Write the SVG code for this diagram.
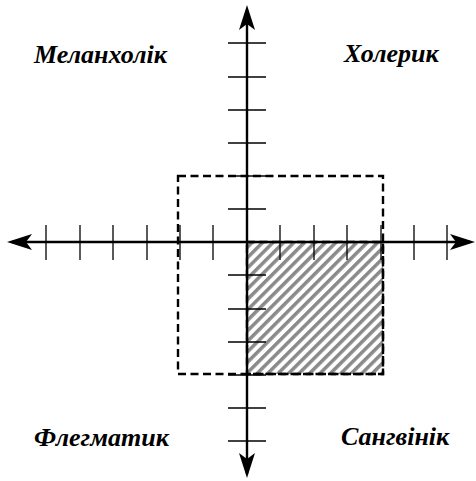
<svg xmlns="http://www.w3.org/2000/svg" width="476" height="481" viewBox="0 0 476 481">
<style>
.axis{stroke:#000;stroke-width:2.4;fill:none}
.tick{stroke:#000;stroke-width:1.3;fill:none}
.dash{stroke:#000;stroke-width:2.4;fill:none;stroke-dasharray:8 4.5}
.lbl{font-family:"Liberation Serif","Times New Roman",serif;font-weight:bold;font-style:italic;font-size:26px;fill:#000}
</style>
<defs>
<pattern id="hatch" patternUnits="userSpaceOnUse" width="7.4" height="7.4" patternTransform="rotate(-45 247 242)">
<rect x="0" y="0" width="7.4" height="3.5" fill="#8a8a8a"/>
</pattern>
</defs>
<rect width="476" height="481" fill="#fff"/>
<g id="hatched-area">
<rect x="247" y="242" width="136" height="132" fill="url(#hatch)"/>
</g>
<g id="connectors">
<g id="ticks-x">
<line class="tick" x1="46" y1="225" x2="46" y2="260"/>
<line class="tick" x1="80" y1="225" x2="80" y2="260"/>
<line class="tick" x1="113" y1="225" x2="113" y2="260"/>
<line class="tick" x1="147" y1="225" x2="147" y2="260"/>
<line class="tick" x1="180" y1="225" x2="180" y2="260"/>
<line class="tick" x1="213" y1="225" x2="213" y2="260"/>
<line class="tick" x1="280" y1="225" x2="280" y2="260"/>
<line class="tick" x1="314" y1="225" x2="314" y2="260"/>
<line class="tick" x1="347" y1="225" x2="347" y2="260"/>
<line class="tick" x1="381" y1="225" x2="381" y2="260"/>
<line class="tick" x1="414" y1="225" x2="414" y2="260"/>
<line class="tick" x1="447" y1="225" x2="447" y2="260"/>
</g>
<g id="ticks-y">
<line class="tick" x1="228" y1="43" x2="266" y2="43"/>
<line class="tick" x1="228" y1="77" x2="266" y2="77"/>
<line class="tick" x1="228" y1="110" x2="266" y2="110"/>
<line class="tick" x1="228" y1="143" x2="266" y2="143"/>
<line class="tick" x1="228" y1="176" x2="266" y2="176"/>
<line class="tick" x1="228" y1="209" x2="266" y2="209"/>
<line class="tick" x1="228" y1="275" x2="266" y2="275"/>
<line class="tick" x1="228" y1="309" x2="266" y2="309"/>
<line class="tick" x1="228" y1="342" x2="266" y2="342"/>
<line class="tick" x1="228" y1="375" x2="266" y2="375"/>
<line class="tick" x1="228" y1="408" x2="266" y2="408"/>
<line class="tick" x1="228" y1="441" x2="266" y2="441"/>
</g>
<rect class="dash" x="178" y="176" width="205" height="198"/>
<rect class="dash" x="247" y="242" width="136" height="132"/>
<line class="axis" x1="12" y1="242" x2="470" y2="242"/>
<line class="axis" x1="247" y1="10" x2="247" y2="474"/>
<path d="M247,5 L255,30 L247,24 L239,30 Z" fill="#000"/>
<path d="M247,478 L255,453 L247,459 L239,453 Z" fill="#000"/>
<path d="M7,242 L32,234 L26,242 L32,250 Z" fill="#000"/>
<path d="M475,242 L450,234 L456,242 L450,250 Z" fill="#000"/>
</g>
<g id="melancholic"><text class="lbl" x="34" y="63">Меланхолік</text></g>
<g id="choleric"><text class="lbl" x="344" y="62">Холерик</text></g>
<g id="phlegmatic"><text class="lbl" x="34" y="446">Флегматик</text></g>
<g id="sanguine"><text class="lbl" x="341" y="445">Сангвінік</text></g>
</svg>
